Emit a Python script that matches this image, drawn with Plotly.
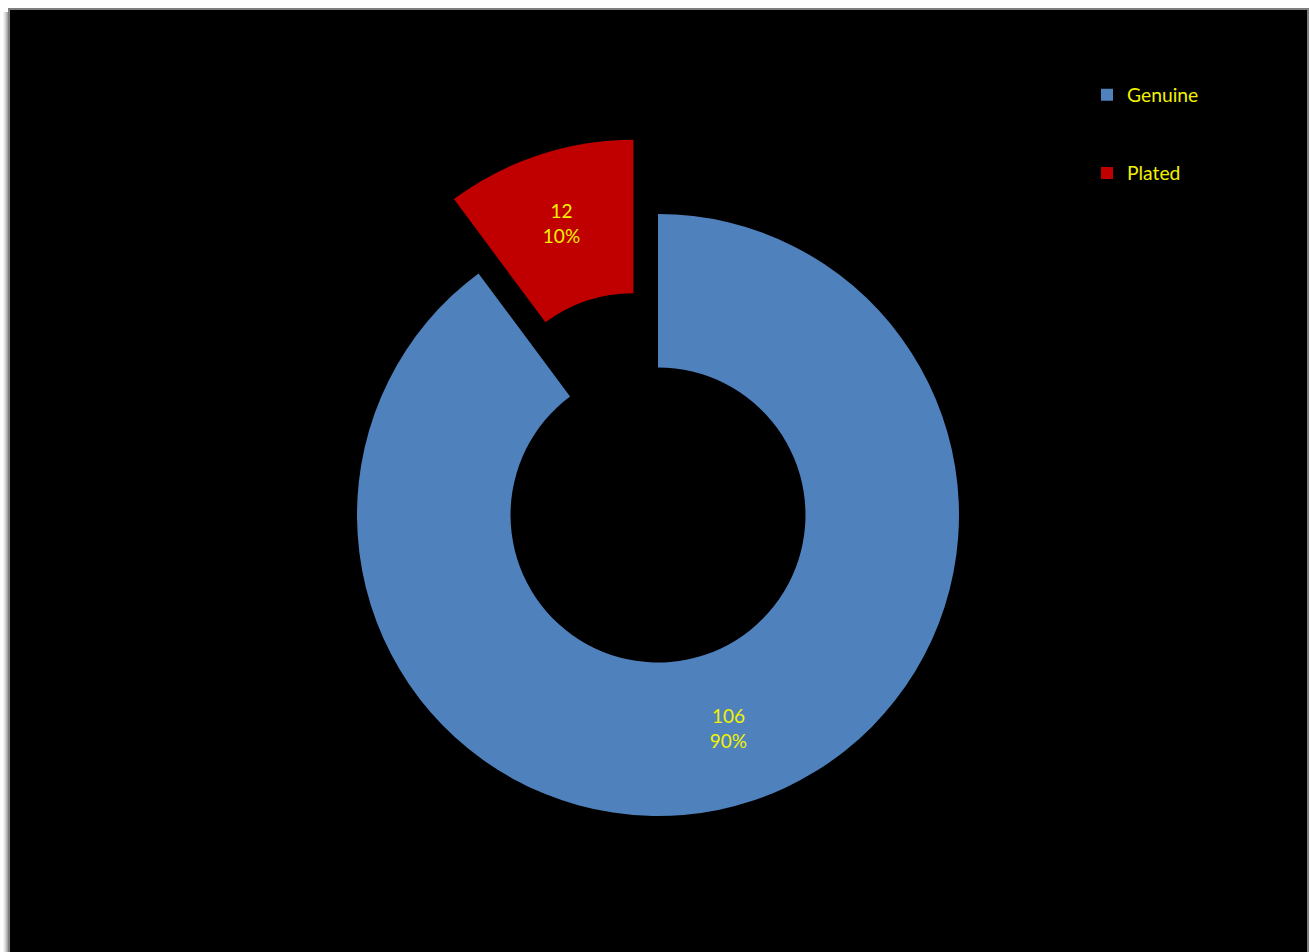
import plotly.graph_objects as go

categories = ["Genuine", "Plated"]
values = [106, 12]
colors = ["#4F81BD", "#C00000"]
pulls = [0, 0.26]

W, H = 1309, 952
cx, cy = 658, 515
R = 301
box = 2 * R * (1 + max(pulls))

def px(x):
    return x / W

def py(y):
    return 1 - y / H

legend_labels = ["&nbsp;<br>" + c + "<br>&nbsp;" for c in categories]

fig = go.Figure()
fig.add_trace(go.Pie(
    labels=legend_labels,
    values=values,
    marker=dict(colors=colors, line=dict(width=0)),
    hole=0.49,
    pull=pulls,
    sort=False,
    direction="clockwise",
    rotation=0,
    texttemplate="%{value}<br>%{percent:.0%}",
    textposition="inside",
    insidetextorientation="horizontal",
    textfont=dict(color="#F2F200", size=19, family="Lato"),
    domain=dict(x=[px(cx - box / 2), px(cx + box / 2)],
                y=[py(cy + box / 2), py(cy - box / 2)]),
    hoverinfo="value+percent",
))

shapes = []
# left shadow
for i, c in enumerate(["#f4f4f4", "#e6e6e6", "#d4d4d4", "#bdbdbd", "#a5a5a5"]):
    shapes.append(dict(type="rect", xref="paper", yref="paper",
                       x0=px(3 + i), x1=px(4 + i), y0=0, y1=py(12),
                       fillcolor=c, line=dict(width=0), layer="below"))
# frame
shapes.append(dict(type="rect", xref="paper", yref="paper",
                   x0=px(8), x1=px(1309), y0=-0.01, y1=py(8),
                   fillcolor="#7f7f7f", line=dict(width=0), layer="below"))
shapes.append(dict(type="rect", xref="paper", yref="paper",
                   x0=px(10), x1=px(1307), y0=-0.01, y1=py(10),
                   fillcolor="#000000", line=dict(width=0), layer="below"))

fig.update_layout(
    width=W, height=H,
    margin=dict(l=0, r=0, t=0, b=0),
    paper_bgcolor="#FFFFFF",
    plot_bgcolor="#000000",
    shapes=shapes,
    showlegend=True,
    legend=dict(
        x=px(1087), y=py(50.5), xanchor="left", yanchor="top",
        bgcolor="rgba(0,0,0,0)",
        font=dict(color="#F2F200", size=19.3, family="Lato"),
        traceorder="normal",
    ),
)

fig.write_html("out.html", config={"displayModeBar": False},
               post_script="document.body.style.margin='0';")
